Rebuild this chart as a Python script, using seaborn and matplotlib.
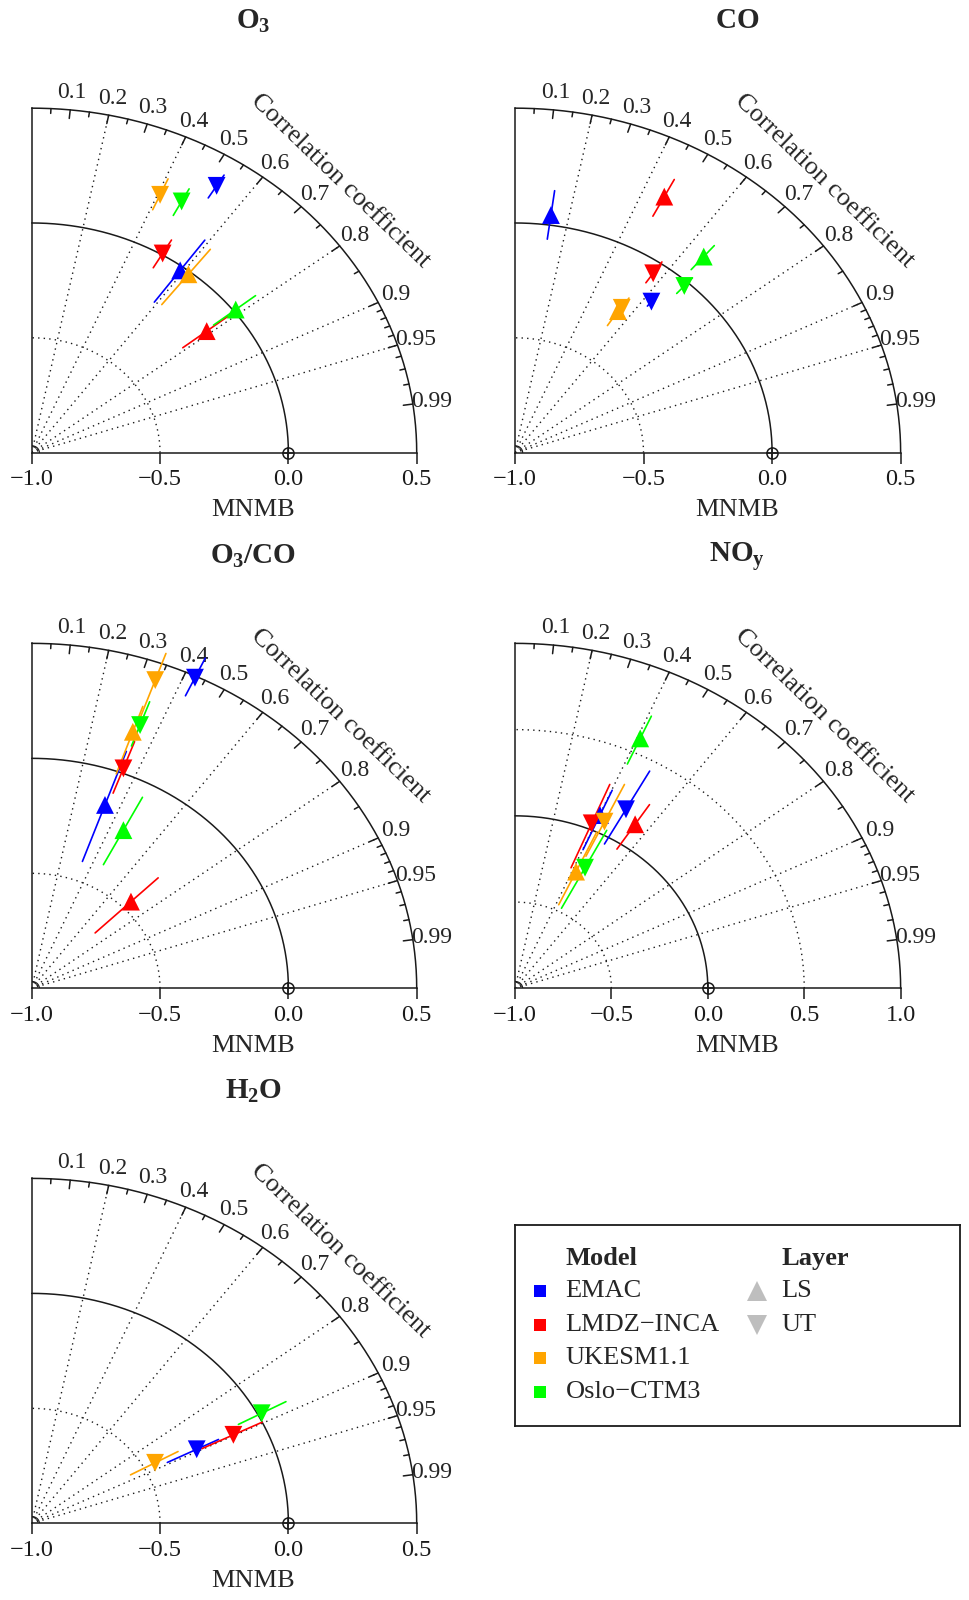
import numpy as np
import pandas as pd
import matplotlib
matplotlib.use("Agg")
import matplotlib.pyplot as plt
import seaborn as sns

sns.set_theme(style="white")
plt.rcParams["font.family"] = ["Liberation Serif", "DejaVu Serif"]
plt.rcParams["mathtext.fontset"] = "custom"
plt.rcParams["mathtext.rm"] = "Liberation Serif"
plt.rcParams["mathtext.it"] = "Liberation Serif:italic"
plt.rcParams["mathtext.bf"] = "Liberation Serif:bold"

MODELS = ["EMAC", "LMDZ−INCA", "UKESM1.1", "Oslo−CTM3"]
COLORS = ["#0000FF", "#FF0000", "#FFA500", "#00FF00"]
LAYERS = ["LS", "UT"]

# order in every array: EMAC, LMDZ, UKESM, Oslo for LS, then the same for UT
# corr = correlation, sd = normalised std dev, lo/hi = range of the std dev
o3_corr = [0.589, 0.790, 0.618, 0.787, 0.527, 0.507, 0.407, 0.471]
o3_sd = [0.982, 0.863, 0.988, 1.010, 1.367, 1.006, 1.229, 1.240]
o3_lo = [0.811, 0.745, 0.820, 0.900, 1.305, 0.934, 1.158, 1.171]
o3_hi = [1.145, 0.970, 1.126, 1.108, 1.422, 1.074, 1.305, 1.302]

co_corr = [0.134, 0.462, 0.545, 0.652, 0.628, 0.567, 0.550, 0.672]
co_sd = [1.044, 1.257, 0.735, 1.126, 0.845, 0.948, 0.755, 0.980]
co_lo = [0.938, 1.161, 0.660, 1.051, 0.820, 0.898, 0.700, 0.936]
co_hi = [1.151, 1.341, 0.780, 1.189, 0.875, 1.008, 0.806, 1.027]

o3co_corr = [0.337, 0.716, 0.333, 0.461, 0.426, 0.350, 0.338, 0.346]
o3co_sd = [0.847, 0.540, 1.183, 0.775, 1.493, 1.021, 1.424, 1.220]
o3co_lo = [0.586, 0.345, 0.989, 0.606, 1.406, 0.906, 1.250, 1.123]
o3co_hi = [1.094, 0.688, 1.300, 0.936, 1.587, 1.145, 1.547, 1.328]

noy_corr = [0.402, 0.548, 0.424, 0.409, 0.485, 0.384, 0.433, 0.461]
noy_sd = [1.097, 1.137, 0.747, 1.588, 1.187, 1.036, 1.072, 0.788]
noy_lo = [0.878, 0.965, 0.535, 1.425, 0.957, 0.757, 0.850, 0.523]
noy_hi = [1.254, 1.273, 1.000, 1.729, 1.440, 1.280, 1.311, 1.032]

# no LS values for water vapour
h2o_corr = [np.nan, np.nan, np.nan, np.nan, 0.894, 0.898, 0.877, 0.882]
h2o_sd = [np.nan, np.nan, np.nan, np.nan, 0.719, 0.875, 0.548, 1.016]
h2o_lo = [np.nan, np.nan, np.nan, np.nan, 0.591, 0.738, 0.439, 0.913]
h2o_hi = [np.nan, np.nan, np.nan, np.nan, 0.814, 1.000, 0.650, 1.123]

corr_labels = [0.1, 0.2, 0.3, 0.4, 0.5, 0.6, 0.7, 0.8, 0.9, 0.95, 0.99]
corr_lines = [0.2, 0.4, 0.6, 0.8, 0.9, 0.95]
corr_minor = [0.05, 0.15, 0.25, 0.35, 0.45, 0.55, 0.65, 0.75, 0.85,
              0.91, 0.92, 0.93, 0.94, 0.96, 0.97, 0.98]

panels = [
    (r"$\mathbf{O_3}$", 1.5, o3_corr, o3_sd, o3_lo, o3_hi, [0.0327, 0.7171, 0.3969, 0.2153]),
    (r"$\mathbf{CO}$", 1.5, co_corr, co_sd, co_lo, co_hi, [0.5309, 0.7171, 0.3976, 0.2153]),
    (r"$\mathbf{O_3/CO}$", 1.5, o3co_corr, o3co_sd, o3co_lo, o3co_hi, [0.0327, 0.3823, 0.3969, 0.2156]),
    (r"$\mathbf{NO_y}$", 2.0, noy_corr, noy_sd, noy_lo, noy_hi, [0.5309, 0.3823, 0.3976, 0.2156]),
    (r"$\mathbf{H_2O}$", 1.5, h2o_corr, h2o_sd, h2o_lo, h2o_hi, [0.0327, 0.0479, 0.3969, 0.2156]),
]

palette = dict(zip(MODELS, COLORS))
dot = (0, (1, 3))
fig = plt.figure(figsize=(9.7, 16), dpi=100)


def draw_frame(ax, R):
    th = np.linspace(0, np.pi / 2, 300)
    ax.plot(R * np.cos(th) - 1, R * np.sin(th), color="k", lw=1.1, clip_on=False)
    ax.plot(np.cos(th) - 1, np.sin(th), color="k", lw=1.1, clip_on=False)
    for rr in np.arange(0.5, R, 0.5):
        if abs(rr - 1.0) < 1e-6:
            continue
        ax.plot(rr * np.cos(th) - 1, rr * np.sin(th), color="0.1", ls=dot, lw=1.0)
    for c in corr_lines:
        a = np.arccos(c)
        ax.plot([-1, R * np.cos(a) - 1], [0, R * np.sin(a)], color="0.1", ls=dot, lw=1.0)
    # tiny arc where the lines meet
    ax.plot(0.02 * R * np.cos(th) - 1, 0.02 * R * np.sin(th), color="k", lw=0.8)
    for c in corr_labels:
        a = np.arccos(c)
        ax.plot([R * 0.975 * np.cos(a) - 1, R * np.cos(a) - 1],
                [R * 0.975 * np.sin(a), R * np.sin(a)], color="k", lw=1.1, clip_on=False)
        ax.text(1.05 * R * np.cos(a) - 1, 1.05 * R * np.sin(a), f"{c:g}",
                ha="center", va="center", fontsize=17)
    for c in corr_minor:
        a = np.arccos(c)
        ax.plot([R * 0.986 * np.cos(a) - 1, R * np.cos(a) - 1],
                [R * 0.986 * np.sin(a), R * np.sin(a)], color="k", lw=1.1, clip_on=False)
    a = np.radians(44.6)
    ax.text(1.125 * R * np.cos(a) - 1, 1.125 * R * np.sin(a), "Correlation coefficient",
            ha="center", va="center", rotation=-44, rotation_mode="anchor", fontsize=19)
    # reference point
    ax.plot(0, 0, marker="o", mfc="none", mec="k", ms=8, mew=1.1, clip_on=False, zorder=5)
    ax.plot(0, 0, marker="+", color="k", ms=8, mew=1.1, clip_on=False, zorder=5)


for title, R, corr, sd, lo, hi, pos in panels:
    ax = fig.add_axes(pos)
    df = pd.DataFrame({
        "model": MODELS * 2,
        "layer": [LAYERS[0]] * 4 + [LAYERS[1]] * 4,
        "corr": corr, "sd": sd, "lo": lo, "hi": hi,
    }).dropna()
    df["x"] = df["sd"] * df["corr"] - 1
    df["y"] = df["sd"] * np.sqrt(1 - df["corr"] ** 2)

    draw_frame(ax, R)

    for _, row in df.iterrows():
        s = np.sqrt(1 - row["corr"] ** 2)
        ax.plot([row["lo"] * row["corr"] - 1, row["hi"] * row["corr"] - 1],
                [row["lo"] * s, row["hi"] * s], color=palette[row["model"]],
                lw=1.2, zorder=3, clip_on=False)

    sns.scatterplot(data=df, x="x", y="y", hue="model", style="layer",
                    palette=palette, markers={"LS": "^", "UT": "v"}, s=165,
                    linewidth=0, legend=False, ax=ax, zorder=4, clip_on=False)

    ax.set_xlim(-1, -1 + R)
    ax.set_ylim(0, R)
    ticks = np.arange(-1, -1 + R + 0.01, 0.5)
    ax.set_xticks(ticks)
    ax.set_xticklabels([f"{t:.1f}".replace("-", "−") for t in ticks])
    ax.set_yticks([])
    ax.set_xlabel("")
    ax.set_ylabel("")
    ax.tick_params(axis="x", bottom=True, direction="out", length=8, width=1.1,
                   pad=4, labelsize=17.5, colors="k")
    for side in ["top", "right"]:
        ax.spines[side].set_visible(False)
    for side in ["left", "bottom"]:
        ax.spines[side].set_color("k")
        ax.spines[side].set_linewidth(1.1)
    ax.patch.set_alpha(0)
    ax.text(0.575, -0.166, "MNMB", transform=ax.transAxes, ha="center", va="center",
            fontsize=19)
    ax.text(0.575, 1.253, title, transform=ax.transAxes, ha="center", va="center",
            fontsize=21)

# legend box
lax = fig.add_axes([0.5309, 0.1088, 0.4588, 0.1256])
lax.set_xlim(0, 1)
lax.set_ylim(0, 1)
lax.set_xticks([])
lax.set_yticks([])
for side in lax.spines.values():
    side.set_visible(True)
    side.set_color("k")
    side.set_linewidth(1.3)
lax.text(0.114, 0.834, "Model", fontweight="bold", fontsize=19, va="center")
lax.text(0.599, 0.834, "Layer", fontweight="bold", fontsize=19, va="center")
row_y = [0.673, 0.502, 0.337, 0.171]
for m, c, yy in zip(MODELS, COLORS, row_y):
    lax.plot(0.0562, yy, marker="s", color=c, ms=8.5, mew=0)
    lax.text(0.114, yy, m, fontsize=19, va="center")
for lay, mk, yy in zip(LAYERS, ["^", "v"], row_y[:2]):
    lax.plot(0.543, yy, marker=mk, color="#BEBEBE", ms=14, mew=0)
    lax.text(0.599, yy, lay, fontsize=19, va="center")

fig.savefig("out.png", dpi=100)
